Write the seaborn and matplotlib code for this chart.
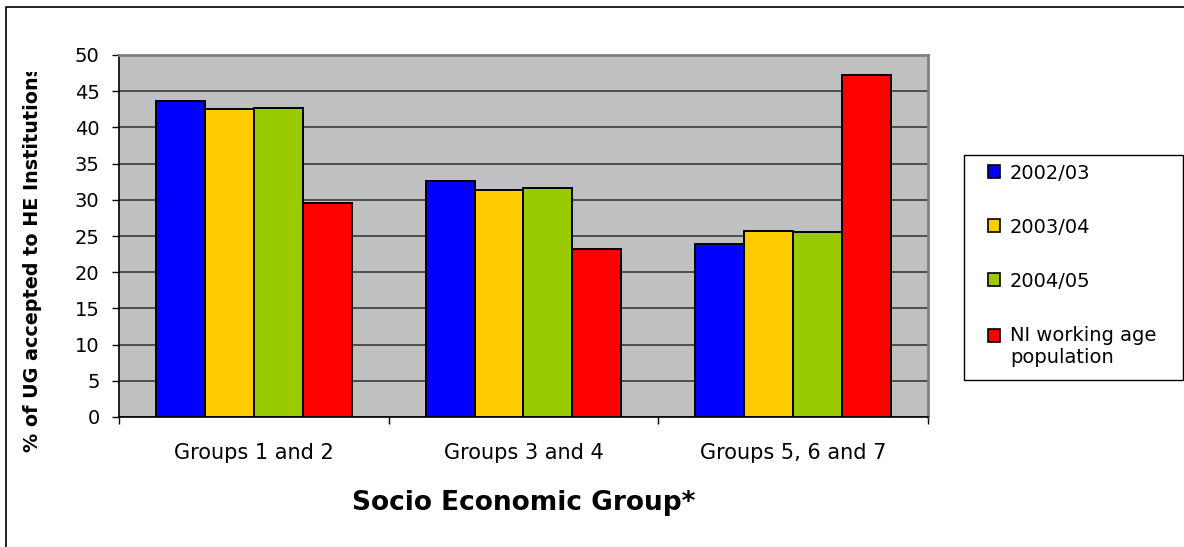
import matplotlib
matplotlib.use("Agg")
import matplotlib.pyplot as plt
from matplotlib.patches import Rectangle
from matplotlib.transforms import Bbox, TransformedBbox
import seaborn as sns
import pandas as pd

# Share of undergraduates accepted to HE institutions by socio-economic group
groups = ["Groups 1 and 2", "Groups 3 and 4", "Groups 5, 6 and 7"]
series_names = ["2002/03", "2003/04", "2004/05", "NI working age\npopulation"]
vals_2002 = [43.6, 32.6, 23.9]
vals_2003 = [42.5, 31.4, 25.7]
vals_2004 = [42.7, 31.6, 25.5]
vals_ni = [29.5, 23.2, 47.3]
colors = ["#0000FF", "#FFCC00", "#99CC00", "#FF0000"]
yticks = list(range(0, 51, 5))

rows = []
for name, vals in zip(series_names, [vals_2002, vals_2003, vals_2004, vals_ni]):
    for g, v in zip(groups, vals):
        rows.append({"group": g, "series": name, "value": v})
df = pd.DataFrame(rows)

sns.set_theme(style="white")
plt.rcParams["font.family"] = ["DejaVu Sans"]
plt.rcParams["text.color"] = "black"
plt.rcParams["axes.labelcolor"] = "black"
plt.rcParams["xtick.color"] = "black"
plt.rcParams["ytick.color"] = "black"

W, H = 1184, 547
fig = plt.figure(figsize=(W / 100, H / 100), dpi=100)
ax = fig.add_axes([119 / W, 1 - 417 / H, (928 - 119) / W, (417 - 55) / H])
ax.set_facecolor("#C0C0C0")

sns.barplot(data=df, x="group", y="value", hue="series", order=groups,
            hue_order=series_names, palette=colors, saturation=1,
            width=0.726, dodge=True, edgecolor="black", linewidth=1.4,
            errorbar=None, ax=ax, zorder=3)

ax.set_ylim(0, 50)
ax.set_xlim(-0.5, 2.5)
ax.set_yticks(yticks)
ax.set_yticklabels([str(t) for t in yticks])
ax.yaxis.grid(True, color="#3a3a3a", linewidth=1.2, zorder=0)
ax.xaxis.grid(False)
ax.set_axisbelow(True)

for side in ["top", "right"]:
    ax.spines[side].set_color("#808080")
    ax.spines[side].set_linewidth(2)
for side in ["left", "bottom"]:
    ax.spines[side].set_color("black")
    ax.spines[side].set_linewidth(1.2)

ax.tick_params(axis="y", which="major", direction="out", length=5,
               width=1, color="black", labelsize=14, pad=9, left=True,
               labelcolor="black")
ax.tick_params(axis="x", which="major", length=0, labelsize=15, pad=19,
               labelcolor="black")
ax.set_xticks([-0.5, 0.5, 1.5, 2.5], minor=True)
ax.tick_params(axis="x", which="minor", direction="out", length=5,
               width=1, color="black", bottom=True)

ax.set_xlabel("Socio Economic Group*", fontsize=19, fontweight="bold",
              labelpad=19, color="black")
ax.set_ylabel("")

ylab = fig.text(33 / W, 1 - 452 / H, "% of UG accepted to HE Institutions",
                rotation=90, ha="center", va="bottom", fontsize=13.8,
                fontweight="bold", color="black")
ylab.set_clip_box(TransformedBbox(Bbox([[0, 0], [1, 1 - 72 / H]]),
                                  fig.transFigure))
ylab.set_clip_on(True)

# Legend entries, with a separate square-cornered frame around them
handles, labels = ax.get_legend_handles_labels()
if ax.legend_:
    ax.legend_.remove()
leg = fig.legend(handles, labels, loc="upper left",
                 bbox_to_anchor=(979 / W, 1 - 155 / H),
                 frameon=False, fontsize=14,
                 handlelength=0.65, handleheight=0.65, handletextpad=0.5,
                 labelspacing=1.8, borderpad=0.45, borderaxespad=0)
for t in leg.get_texts():
    t.set_color("black")
for h in leg.legend_handles:
    h.set_edgecolor("black")
    h.set_linewidth(1.2)
# put the two-line entry's swatch beside its first line
last = leg.legend_handles[-1]
last.set_y(last.get_y() + 8.2)
fig.add_artist(Rectangle((964 / W, 1 - 380 / H), (1183 - 964) / W,
                         (380 - 155) / H, transform=fig.transFigure,
                         fill=False, edgecolor="black", linewidth=1))

# Outer chart border
fig.add_artist(Rectangle((6 / W, -0.1), 1.2, 1 - 6.5 / H + 0.1,
                         transform=fig.transFigure, fill=False,
                         edgecolor="black", linewidth=1.2))

fig.savefig("out.png", dpi=100)
